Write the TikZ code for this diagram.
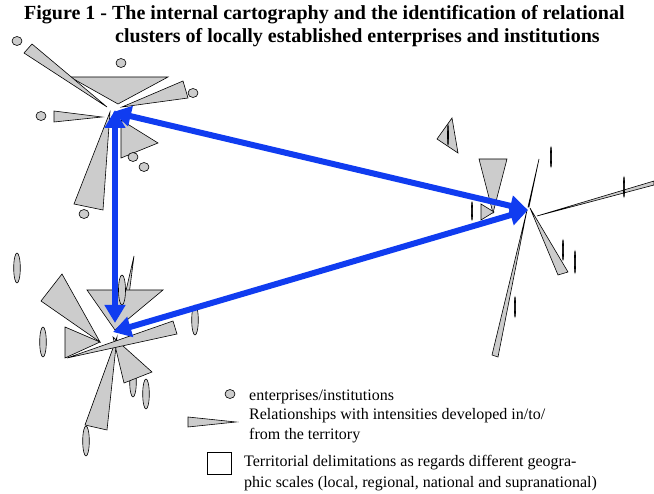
\documentclass[tikz,border=0pt]{standalone}
\usepackage{fontspec}
\setmainfont{Liberation Serif}
\usetikzlibrary{arrows.meta}
\definecolor{relgray}{RGB}{204,204,204}
\definecolor{linkblue}{RGB}{16,60,240}
\tikzset{
  rel/.style={draw=black,fill=relgray,line width=0.6pt},
  firm/.style={draw=black,fill=relgray,line width=0.6pt},
  scalebar/.style={draw=black,fill=black,line width=0.6pt},
  link/.style={{Triangle[length=18pt,width=20pt]}-{Triangle[length=18pt,width=20pt]},draw=linkblue,line width=6pt},
  legtext/.style={anchor=base west,inner sep=0pt,font=\fontsize{16}{20}\selectfont},
  titletext/.style={anchor=base west,inner sep=0pt,font=\fontsize{20}{23}\selectfont\bfseries}
}
\begin{document}
\begin{tikzpicture}[x=1pt,y=-1pt]
      \useasboundingbox (0,0) rectangle (654,494);
      % title
      \node[titletext] (title1) at (24,20) {Figure 1 - The internal cartography and the identification of relational};
      \node[titletext] (title2) at (115,43) {clusters of locally established enterprises and institutions};
      % top cluster
      \begin{scope}
        \draw[rel] (70,77) -- (168,77) -- (118,104) -- cycle;
        \draw[rel] (24,53) -- (32,44) -- (107,107) -- cycle;
        \draw[rel] (183,81) -- (188,98) -- (122,107) -- cycle;
        \draw[rel] (54,111) -- (54,122) -- (102,117) -- cycle;
        \draw[rel] (121,120) -- (158,143) -- (121,158) -- cycle;
        \draw[rel] (74,204) -- (103,210) -- (110,112) -- cycle;
        \foreach \x/\y in {17/41,121/63,193/93,41/116,133/157,144/167,84/214}
          \draw[firm] (\x,\y) ellipse (5 and 4.5);
      \end{scope}
      % bottom cluster
      \begin{scope}
        \draw[rel] (134,256) -- (125,295) -- (129,295) -- cycle;
        \draw[rel] (87,290) -- (163,290) -- (115,330) -- cycle;
        \draw[firm] (122,290) ellipse (3.5 and 15);
        \draw[rel] (62,274) -- (41,301) -- (100,342) -- cycle;
        \draw[rel] (65,327) -- (65,358) -- (100,342) -- cycle;
        \draw[firm] (133,382) ellipse (3.3 and 15);
        \draw[rel] (113,337) -- (152,372) -- (124,383) -- cycle;
        \draw[rel] (117,337) -- (85,425) -- (107,430) -- cycle;
        \draw[rel] (67,358) -- (173,321) -- (177,334) -- cycle;
        \foreach \x/\y in {17/268,43/342,195/320,146/394,86/441}
          \draw[firm] (\x,\y) ellipse (3.3 and 15);
      \end{scope}
      % right cluster
      \begin{scope}
        \draw[rel] (452,118) -- (437,139) -- (458,153) -- cycle;
        \draw[scalebar] (448,135) ellipse (0.5 and 10);
        \draw[rel] (479,159) -- (507,159) -- (493,213) -- cycle;
        \draw[rel] (481,204) -- (481,220) -- (494,212) -- cycle;
        \draw[scalebar] (472,211) ellipse (0.6 and 9);
        \draw[scalebar] (551,157) ellipse (0.6 and 10);
        \draw[rel] (539,159) -- (528,207) -- (529,207) -- cycle;
        \draw[rel] (527,210) -- (492,355) -- (498,357) -- cycle;
        \draw[rel] (537,216) -- (654,181) -- (654,185) -- cycle;
        \draw[scalebar] (624,187) ellipse (0.6 and 10);
        \draw[rel] (530,208) -- (558,275) -- (568,272) -- cycle;
        \draw[scalebar] (563,250) ellipse (0.6 and 10);
        \draw[scalebar] (575,262) ellipse (0.6 and 11);
        \draw[scalebar] (515,307) ellipse (0.6 and 10);
      \end{scope}
      % links between the clusters
      \coordinate (topv) at (115,110);
      \coordinate (topd) at (113,112);
      \coordinate (botv) at (115,323);
      \coordinate (botd) at (113,332);
      \coordinate (rightc) at (528,210);
      \draw[link] (botv) -- (topv);
      \draw[link] (topd) -- (rightc);
      \draw[link] (botd) -- (rightc);
      % legend
      \draw[firm] (230,394) ellipse (5 and 4.5);
      \node[legtext] (legfirm) at (249,401) {enterprises/institutions};
      \draw[rel] (188,417) -- (188,427) -- (236,422) -- cycle;
      \node[legtext] (legrel1) at (249,420) {Relationships with intensities developed in/to/};
      \node[legtext] (legrel2) at (249,440) {from the territory};
      \draw[line width=0.8pt] (207,452) rectangle (231,474);
      \node[legtext] (legscale1) at (244,467) {Territorial delimitations as regards different geogra-};
      \node[legtext] (legscale2) at (244,488) {phic scales (local, regional, national and supranational)};
\end{tikzpicture}
\end{document}
